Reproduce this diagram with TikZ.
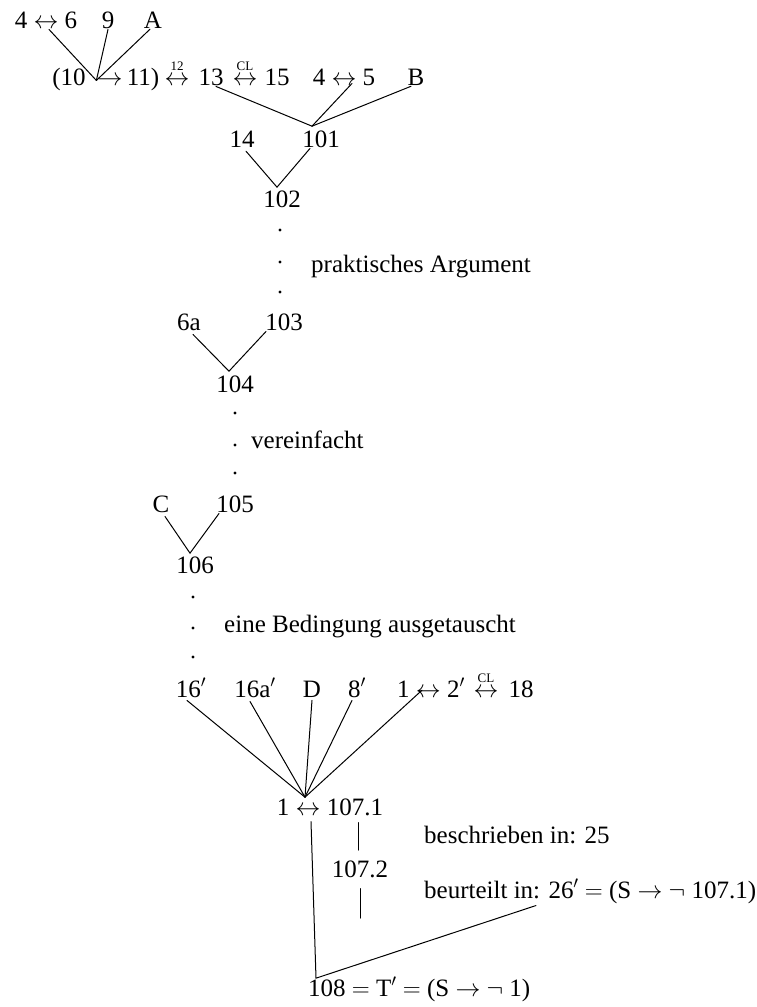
\documentclass[tikz,border=0pt]{standalone}
\usepackage{fontspec}
\setmainfont{Liberation Serif}
\usetikzlibrary{calc}
\begin{document}
\begin{tikzpicture}[x=1pt,y=-1pt,
  every node/.style={font=\fontsize{25}{29}\selectfont, inner sep=1pt},
  lbl/.style={anchor=base},
  lw/.style={anchor=base west},
  small/.style={font=\fontsize{13}{13}\selectfont, inner sep=0pt, anchor=south},
  conn/.style={line width=1pt, line cap=round},
  dotn/.style={circle, fill, inner sep=0pt, minimum size=3.3pt}]
\useasboundingbox (0,0) rectangle (757,1007);

% row 1
\node[lbl] (n46) at (46,28) {4 $\leftrightarrow$ 6};
\node[lbl] (n9) at (108,28) {9};
\node[lbl] (nA) at (153,28) {A};
% row 2
\node[lbl] (n10) at (69,85) {(10};
\node[lbl] (nar) at (110,85) {$\rightarrow$};
\node[lbl] (n11) at (143,85) {11)};
\node[lbl] (a12) at (177,85) {$\leftrightarrow$};
\node[small] (t12) at ([yshift=4pt]a12.north) {12};
\node[lbl] (n13) at (211,85) {13};
\node[lbl] (aCL) at (245,85) {$\leftrightarrow$};
\node[small] (tCL) at ([yshift=4pt]aCL.north) {CL};
\node[lbl] (n15) at (277,85) {15};
\node[lbl] (n45) at (344,85) {4 $\leftrightarrow$ 5};
\node[lbl] (nB) at (416,85) {B};
% row 3
\node[lbl] (n14) at (242,147) {14};
\node[lbl] (n101) at (321,147) {101};
\node[lbl] (n102) at (282,207) {102};
\node[dotn] (d1) at (280,230) {};
\node[dotn] (d2) at (280,262) {};
\node[dotn] (d3) at (280,292) {};
\node[lw] (lprakt) at (310,272) {praktisches Argument};
\node[lbl] (n6a) at (189,330) {6a};
\node[lbl] (n103) at (284,330) {103};
\node[lbl] (n104) at (235,392) {104};
\node[dotn] (d4) at (235,413) {};
\node[dotn] (d5) at (235,445) {};
\node[dotn] (d6) at (235,473) {};
\node[lw] (lvere) at (250,448) {vereinfacht};
\node[lbl] (nC) at (161,512) {C};
\node[lbl] (n105) at (235,512) {105};
\node[lbl] (n106) at (195,573) {106};
\node[dotn] (d7) at (193,597) {};
\node[dotn] (d8) at (193,628) {};
\node[dotn] (d9) at (193,657) {};
\node[lw] (lbed) at (223,632) {eine Bedingung ausgetauscht};
% row 16'
\node[lbl] (n16p) at (191,697) {16$'$};
\node[lbl] (n16ap) at (255,697) {16a$'$};
\node[lbl] (nD) at (312,697) {D};
\node[lbl] (n8p) at (357,697) {8$'$};
\node[lbl] (n12p) at (431,697) {1 $\leftrightarrow$ 2$'$};
\node[lbl] (aCL2) at (486,697) {$\leftrightarrow$};
\node[small] (tCL2) at ([yshift=4pt]aCL2.north) {CL};
\node[lbl] (n18) at (521,697) {18};
% bottom
\node[lbl] (n1071) at (330,815) {1 $\leftrightarrow$ 107.1};
\node[lbl] (n1072) at (360,877) {107.2};
\node[lw] (lbeschr) at (423,843) {beschrieben in: 25};
\node[lw] (lbeurt) at (423,898) {beurteilt in: 26$'$ $=$ (S $\rightarrow$ $\neg$ 107.1)};
\node[lw] (n108) at (307,996) {108 $=$ T$'$ $=$ (S $\rightarrow$ $\neg$ 1)};
\coordinate (e2) at (360,918);

% connectors
\draw[conn] ([xshift=3pt]n46.south) -- (nar.west);
\draw[conn] (n9.south) -- (nar.west);
\draw[conn] ([xshift=-3pt]nA.south) -- (nar.west);

\draw[conn] ([xshift=5pt]n13.south) -- ([xshift=-9pt,yshift=3pt]n101.north);
\draw[conn] ([xshift=8pt,yshift=3pt]n45.south) -- ([xshift=-9pt,yshift=3pt]n101.north);
\draw[conn] ([xshift=-5pt]nB.south) -- ([xshift=-9pt,yshift=3pt]n101.north);

\draw[conn] ([xshift=4pt,yshift=-3pt]n14.south) -- ([xshift=-5pt,yshift=2pt]n102.north) -- ([xshift=-11pt]n101.south);

\draw[conn] ([xshift=4pt,yshift=-3pt]n6a.south) -- ([xshift=-6pt,yshift=3pt]n104.north) -- ([xshift=2pt]n103.south west);

\draw[conn] ([xshift=4pt,yshift=-3pt]nC.south) -- ([xshift=-5pt,yshift=2pt]n106.north) -- ([xshift=4pt]n105.south west);

\foreach \s/\dx/\dy in {n16p/-4/-2, n16ap/-5/-3, nD/0/-2, n8p/-5/-2, n12p/-9/8}
  \draw[conn] ([xshift=\dx pt,yshift=\dy pt]\s.south) -- ([xshift=-25pt]n1071.north);

\draw[conn] ([xshift=28pt,yshift=-6pt]n1071.south) -- ([xshift=-2pt,yshift=9pt]n1072.north);
\draw[conn] ([yshift=-10pt]n1072.south) -- (e2);
\draw[conn] ([xshift=-19pt,yshift=-5pt]n1071.south) -- ([xshift=9pt,yshift=-2pt]n108.north west) -- ([xshift=113pt,yshift=-1pt]lbeurt.south west);
\end{tikzpicture}
\end{document}
